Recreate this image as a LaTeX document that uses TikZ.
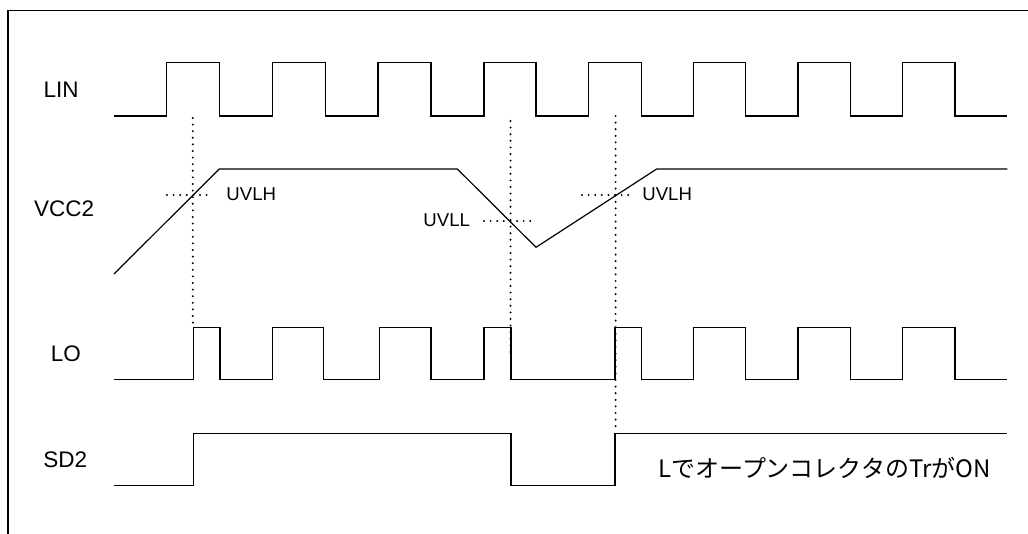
\documentclass[tikz,border=0pt]{standalone}
\usepackage{fontspec}
\setmainfont{Liberation Sans}
\newfontfamily\jpfont{Noto Sans CJK JP}
\begin{document}
\begin{tikzpicture}[x=1pt,y=-1pt,
  wave/.style={line width=1.2pt, line join=miter},
  guide/.style={line width=2.2pt, dash pattern=on 0pt off 6.6pt, line cap=round},
  sig/.style={font=\fontsize{22.5}{24}\selectfont, inner sep=0pt, anchor=center},
  lvl/.style={font=\fontsize{18.6}{20}\selectfont, inner sep=0pt, anchor=center},
  note/.style={font=\jpfont\fontsize{24}{26}\selectfont, inner sep=0pt, anchor=base}]
\useasboundingbox (0,0) rectangle (1028,534);
% frame
\draw[line width=1.2pt] (8,534) -- (8,10.5) -- (1028,10.5);
% labels
\node[sig] (lin) at (61.2,89.5) {LIN};
\node[sig] (vcc) at (64.2,208.3) {VCC2};
\node[sig] (lo) at (65.8,353.7) {LO};
\node[sig] (sd) at (65.3,459.3) {SD2};
% LIN
\draw[wave] (114,116) -- (166.7,116) -- (166.7,62.7) -- (219.3,62.7) -- (219.3,116)
  -- (272.7,116) -- (272.7,62.7) -- (325.3,62.7) -- (325.3,116)
  -- (378,116) -- (378,62.7) -- (431,62.7) -- (431,116)
  -- (484,116) -- (484,62.7) -- (536,62.7) -- (536,116)
  -- (588.7,116) -- (588.7,62.7) -- (641.3,62.7) -- (641.3,116)
  -- (693.3,116) -- (693.3,62.7) -- (745.7,62.7) -- (745.7,116)
  -- (798,116) -- (798,62.7) -- (850.3,62.7) -- (850.3,116)
  -- (902.7,116) -- (902.7,62.7) -- (955,62.7) -- (955,116) -- (1007.3,116);
% VCC2
\draw[wave] (114,274) -- (219.3,169) -- (457.3,169) -- (536,247.3) -- (656.7,169) -- (1007.3,169);
% LO
\draw[wave] (114,379.3) -- (193.3,379.3) -- (193.3,327.3) -- (220,327.3) -- (220,379.3)
  -- (272.7,379.3) -- (272.7,327.3) -- (323.7,327.3) -- (323.7,379.3)
  -- (379.3,379.3) -- (379.3,327.3) -- (431,327.3) -- (431,379.3)
  -- (484,379.3) -- (484,327.3) -- (511,327.3) -- (511,379.3)
  -- (615,379.3) -- (615,327.3) -- (641.3,327.3) -- (641.3,379.3)
  -- (693.3,379.3) -- (693.3,327.3) -- (745.7,327.3) -- (745.7,379.3)
  -- (798,379.3) -- (798,327.3) -- (850.3,327.3) -- (850.3,379.3)
  -- (902.7,379.3) -- (902.7,327.3) -- (955,327.3) -- (955,379.3) -- (1007.3,379.3);
% SD2
\draw[wave] (114,485.7) -- (193.3,485.7) -- (193.3,433.3) -- (511,433.3) -- (511,485.7)
  -- (615,485.7) -- (615,433.3) -- (1007.3,433.3);
% guides
\draw[guide] (192.8,118) -- (192.8,327);
\draw[guide] (167,195) -- (213,195);
\node[lvl] (uvlh1) at (251.3,194) {UVLH};
\draw[guide] (510.5,121) -- (510.5,357);
\draw[guide] (484,221) -- (532,221);
\node[lvl] (uvll) at (446.7,220.5) {UVLL};
\draw[guide] (615.6,116) -- (615.6,432);
\draw[guide] (582,195) -- (632,195);
\node[lvl] (uvlh2) at (667.2,194) {UVLH};
\node[note] (txt) at (824.5,477.3) {LでオープンコレクタのTrがON};
\end{tikzpicture}
\end{document}
